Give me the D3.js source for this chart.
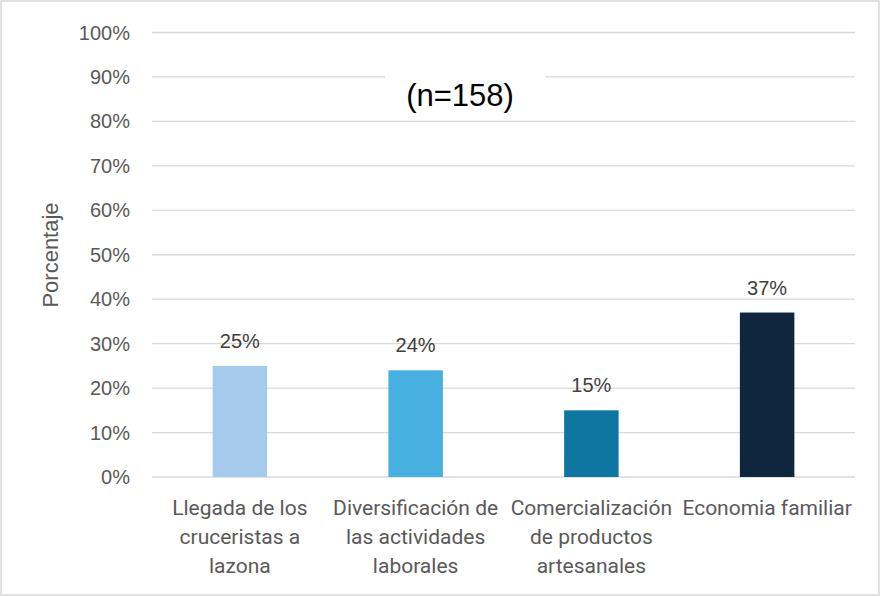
<html>
<head>
    <meta charset="utf-8">
    <style>
        body { margin: 0; background: #fff; }
        text { font-family: "Roboto", "Liberation Sans", sans-serif; }
    </style>
</head>
<body>
    <div id="chart"></div>
    <script src="https://d3js.org/d3.v7.min.js"></script>
    <script>
        var categories = [
            "Llegada de los cruceristas a lazona",
            "Diversificación de las actividades laborales",
            "Comercialización de productos artesanales",
            "Economia familiar"
        ];
        // how each axis label wraps in the reference
        var categoryLines = [
            ["Llegada de los", "cruceristas a", "lazona"],
            ["Diversificación de", "las actividades", "laborales"],
            ["Comercialización", "de productos", "artesanales"],
            ["Economia familiar"]
        ];
        var values = [0.25, 0.24, 0.15, 0.37];
        var colors = ["#a6caec", "#47b0e0", "#0e76a0", "#10263f"];
        var yTicks = [0, 0.1, 0.2, 0.3, 0.4, 0.5, 0.6, 0.7, 0.8, 0.9, 1];

        var width = 884, height = 596;
        var plotLeft = 152, plotRight = 855, plotTop = 32.5, plotBottom = 477;

        var svg = d3.select("#chart").append("svg")
            .attr("width", width)
            .attr("height", height);

        svg.append("rect")
            .attr("x", 1).attr("y", 1)
            .attr("width", width - 6).attr("height", height - 2)
            .attr("fill", "#fff")
            .attr("stroke", "#d9d9d9")
            .attr("stroke-width", 1.5);

        var x = d3.scaleBand()
            .domain(categories)
            .range([plotLeft, plotRight])
            .paddingInner(0.69)
            .paddingOuter(0.345);

        var y = d3.scaleLinear()
            .domain([0, 1])
            .range([plotBottom, plotTop]);

        // gridlines
        svg.append("g")
            .selectAll("line")
            .data(yTicks)
            .enter().append("line")
            .attr("x1", plotLeft).attr("x2", plotRight)
            .attr("y1", function (d) { return y(d); })
            .attr("y2", function (d) { return y(d); })
            .attr("stroke", "#d9d9d9")
            .attr("stroke-width", 1.3);

        // y tick labels
        svg.append("g")
            .selectAll("text")
            .data(yTicks)
            .enter().append("text")
            .attr("x", 130)
            .attr("y", function (d) { return y(d); })
            .attr("dy", "0.35em")
            .attr("text-anchor", "end")
            .attr("fill", "#595959")
            .style("font-family", "'Liberation Sans', sans-serif")
            .style("font-size", "20px")
            .text(d3.format(".0%"));

        // y axis title
        svg.append("text")
            .attr("transform", "translate(58,255) rotate(-90)")
            .attr("text-anchor", "middle")
            .attr("fill", "#595959")
            .style("font-family", "'Liberation Sans', sans-serif")
            .style("font-size", "22px")
            .text("Porcentaje");

        // bars
        svg.append("g")
            .selectAll("rect")
            .data(values)
            .enter().append("rect")
            .attr("x", function (d, i) { return x(categories[i]); })
            .attr("y", function (d) { return y(d); })
            .attr("width", x.bandwidth())
            .attr("height", function (d) { return y(0) - y(d); })
            .attr("fill", function (d, i) { return colors[i]; });

        // value labels
        svg.append("g")
            .selectAll("text")
            .data(values)
            .enter().append("text")
            .attr("x", function (d, i) { return x(categories[i]) + x.bandwidth() / 2; })
            .attr("y", function (d) { return y(d) - 25; })
            .attr("dy", "0.35em")
            .attr("text-anchor", "middle")
            .attr("fill", "#404040")
            .style("font-family", "'Liberation Sans', sans-serif")
            .style("font-size", "20px")
            .text(d3.format(".0%"));

        // category labels
        var cat = svg.append("g")
            .selectAll("text")
            .data(categoryLines)
            .enter().append("text")
            .attr("x", function (d, i) { return x(categories[i]) + x.bandwidth() / 2; })
            .attr("y", 508)
            .attr("text-anchor", "middle")
            .attr("fill", "#595959")
            .style("font-size", "21px");
        cat.selectAll("tspan")
            .data(function (d) { return d; })
            .enter().append("tspan")
            .attr("x", function () { return d3.select(this.parentNode).attr("x"); })
            .attr("dy", function (d, j) { return j === 0 ? "0.35em" : "29px"; })
            .text(function (d) { return d; });

        // title with white box over the gridlines
        svg.append("rect")
            .attr("x", 385).attr("y", 66)
            .attr("width", 160).attr("height", 52)
            .attr("fill", "#fff");
        svg.append("text")
            .attr("x", 460)
            .attr("y", 95)
            .attr("dy", "0.35em")
            .attr("text-anchor", "middle")
            .attr("fill", "#000")
            .style("font-family", "'Liberation Sans', sans-serif")
            .style("font-size", "31px")
            .text("(n=158)");
    </script>
</body>
</html>
